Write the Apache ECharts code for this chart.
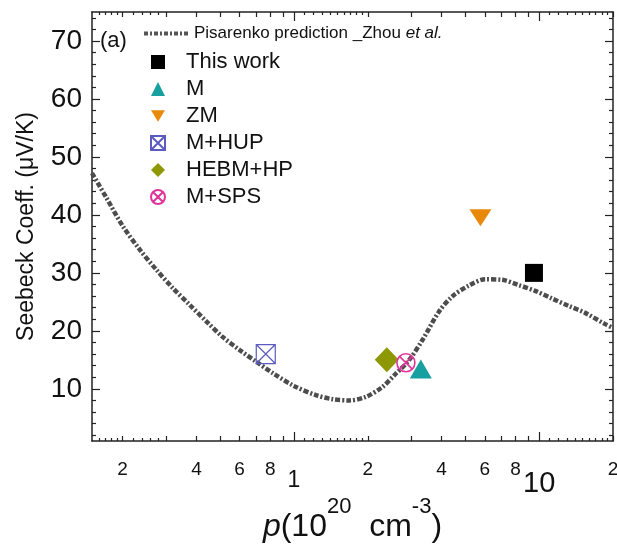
<!DOCTYPE html>
<html>
<head>
<meta charset="utf-8">
<script src="https://cdn.jsdelivr.net/npm/echarts@6/dist/echarts.min.js"></script>
<style>
  html, body { margin: 0; padding: 0; background: #fff; overflow: hidden; }
  #chart { width: 617px; height: 546px; }
</style>
</head>
<body>
<div id="chart"></div>
<script>
// Pisarenko curve: hole concentration p (1e20 cm^-3) vs Seebeck coefficient (uV/K)
const curveP = [0.15, 0.172, 0.2, 0.235, 0.275, 0.32, 0.375, 0.44, 0.51, 0.6, 0.7, 0.82, 1.0,
  1.23, 1.44, 1.68, 1.96, 2.29, 2.6, 2.94, 3.35, 3.9, 4.41, 5.16, 6.03, 7.05, 8.24, 9.63,
  11.25, 13.2, 15.4, 18.5, 20];
const curveS = [47.2, 42.9, 38.1, 34.0, 30.5, 27.4, 24.5, 21.6, 19.0, 16.7, 14.7, 12.7, 10.5,
  8.9, 8.2, 8.0, 8.6, 10.3, 12.6, 14.9, 18.5, 23.3, 25.9, 27.8, 28.9, 28.8, 27.9, 26.9,
  25.6, 24.3, 23.1, 21.2, 20.5];

// Measured samples [p, S]
const thisWork = [[9.52, 30.0]];
const mData = [[3.29, 13.4]];
const zmData = [[5.76, 39.5]];
const mHupData = [[0.767, 16.0]];
const hebmData = [[2.39, 15.0]];
const mSpsData = [[2.86, 14.5]];

// Axis ticks and labels
const xLabelValues = [0.2, 0.4, 0.6, 0.8, 2, 4, 6, 8, 20];
const xDecadeValues = [1, 10];
const xMidTicks = [0.2, 0.3, 0.4, 0.5, 0.6, 0.7, 0.8, 0.9, 2, 3, 4, 5, 6, 7, 8, 9, 20];
const xSmallTicks = [0.16, 0.17, 0.18, 0.19, 0.22, 0.24, 0.26, 0.28,
  1.1, 1.2, 1.3, 1.4, 1.5, 1.6, 1.7, 1.8, 1.9,
  11, 12, 13, 14, 15, 16, 17, 18, 19];
const yMajorTicks = [10, 20, 30, 40, 50, 60, 70];
const yMinorTicks = [2, 4, 6, 8, 12, 14, 16, 18, 22, 24, 26, 28, 32, 34, 36, 38, 42, 44, 46, 48,
  52, 54, 56, 58, 62, 64, 66, 68, 72, 74];

const FONT = '"Liberation Sans", Arial, Helvetica, sans-serif';
const AXIS_COLOR = '#222';

const curveData = curveP.map((p, i) => [p, curveS[i]]);

function xAxisBase(pos, tickValues, tickLen, showLine) {
  return {
    type: 'log', logBase: 10, min: 0.15, max: 20, position: pos,
    axisLine: { show: showLine, lineStyle: { color: AXIS_COLOR, width: 1.5 } },
    axisTick: { show: true, inside: true, length: tickLen, customValues: tickValues,
      lineStyle: { color: AXIS_COLOR, width: 1.2 } },
    axisLabel: { show: false },
    splitLine: { show: false },
    minorTick: { show: false }
  };
}
function yAxisBase(pos, tickValues, tickLen, showLine) {
  return {
    type: 'value', min: 1, max: 75, position: pos,
    axisLine: { show: showLine, lineStyle: { color: AXIS_COLOR, width: 1.5 } },
    axisTick: { show: true, inside: true, length: tickLen, customValues: tickValues,
      lineStyle: { color: AXIS_COLOR, width: 1.2 } },
    axisLabel: { show: false },
    splitLine: { show: false }
  };
}

const xMain = xAxisBase('bottom', xMidTicks, 5, true);
xMain.axisLabel = {
  show: true, customValues: xLabelValues, margin: 19,
  fontFamily: FONT, fontSize: 19, color: '#111',
  formatter: v => String(v < 1 ? Math.round(v * 10) : (v >= 20 ? 2 : v))
};
xMain.name = '{i|p}{n|(10}{s|20}{n|  cm}{s|-3}{n|)}';
xMain.nameLocation = 'middle';
xMain.nameGap = 55;
xMain.nameTextStyle = {
  rich: {
    i: { fontFamily: FONT, fontSize: 32, fontStyle: 'italic', color: '#111', lineHeight: 62 },
    n: { fontFamily: FONT, fontSize: 32, color: '#111', lineHeight: 62 },
    s: { fontFamily: FONT, fontSize: 22, color: '#111', lineHeight: 21, verticalAlign: 'top' }
  }
};

const xDecade = xAxisBase('bottom', xDecadeValues, 9, false);
xDecade.axisLabel = {
  show: true, customValues: xDecadeValues, margin: 28,
  formatter: v => (v === 1 ? '{a|1}' : '{b|10}'),
  rich: {
    a: { fontFamily: FONT, fontSize: 23, color: '#111' },
    b: { fontFamily: FONT, fontSize: 29, color: '#111' }
  }
};

const yMain = yAxisBase('left', yMajorTicks, 8, true);
yMain.axisLabel = {
  show: true, customValues: yMajorTicks, margin: 10,
  fontFamily: FONT, fontSize: 28, color: '#111'
};
yMain.name = 'Seebeck Coeff. (\u03bcV/K)';
yMain.nameLocation = 'middle';
yMain.nameGap = 54;
yMain.nameTextStyle = { fontFamily: FONT, fontSize: 23, color: '#111' };

const option = {
  animation: false,
  backgroundColor: '#fff',
  grid: { left: 92, right: 4, top: 12, bottom: 105, containLabel: false, outerBoundsMode: 'none' },
  title: {
    text: '(a)', left: 95, top: 25,
    textStyle: { fontFamily: FONT, fontSize: 22, fontWeight: 'normal', color: '#111' }
  },
  legend: [
    {
      data: ['Pisarenko prediction _Zhou et al.'],
      left: 142, top: 25, padding: 0, itemWidth: 45, itemHeight: 10,
      itemStyle: { color: 'rgba(0,0,0,0)', borderWidth: 0, opacity: 0 },
      lineStyle: { color: '#555', width: 4, type: [4, 2, 2, 2] },
      formatter: () => 'Pisarenko prediction _Zhou {it|et al.}',
      textStyle: { fontFamily: FONT, fontSize: 17, color: '#111',
        rich: { it: { fontFamily: FONT, fontSize: 17, fontStyle: 'italic', color: '#111' } } },
      selectedMode: false
    },
    {
      data: ['This work', 'M', 'ZM', 'M+HUP', 'HEBM+HP', 'M+SPS'],
      orient: 'vertical', left: 150, top: 51, padding: 0, itemWidth: 14, itemHeight: 14, itemGap: 5,
      textStyle: { fontFamily: FONT, fontSize: 22, color: '#111', lineHeight: 22,
        padding: [0, 0, 0, 16] },
      selectedMode: false
    }
  ],
  xAxis: [
    xMain,
    xDecade,
    xAxisBase('bottom', xSmallTicks, 3, false),
    xAxisBase('top', xMidTicks, 5, true),
    xAxisBase('top', xDecadeValues, 9, false),
    xAxisBase('top', xSmallTicks, 3, false)
  ],
  yAxis: [
    yMain,
    yAxisBase('left', yMinorTicks, 4, false),
    yAxisBase('right', yMajorTicks, 8, true),
    yAxisBase('right', yMinorTicks, 4, false)
  ],
  series: [
    {
      name: 'Pisarenko prediction _Zhou et al.', type: 'line', data: curveData,
      smooth: 0.3, symbol: 'none', clip: true,
      lineStyle: { color: '#4d4d4d', width: 4.5, type: [5, 2, 2, 2] },
      itemStyle: { color: '#4d4d4d' },
      z: 2
    },
    {
      name: 'This work', type: 'scatter', data: thisWork, symbol: 'rect', symbolSize: 18,
      itemStyle: { color: '#000', opacity: 1 }, z: 3
    },
    {
      name: 'M', type: 'scatter', data: mData, symbol: 'triangle', symbolSize: [22, 19],
      itemStyle: { color: '#17a0a0', opacity: 1 }, z: 3
    },
    {
      name: 'ZM', type: 'scatter', data: zmData,
      symbol: 'path://M0,0 L12,0 L6,10 Z',
      symbolSize: [22, 17], itemStyle: { color: '#e8890c', opacity: 1 }, z: 3
    },
    {
      name: 'M+HUP', type: 'scatter', data: mHupData,
      symbol: 'path://M0,0 L10,0 L10,10 L0,10 Z M0,0 L10,10 M10,0 L0,10',
      symbolSize: 19,
      itemStyle: { color: 'rgba(0,0,0,0)', borderColor: '#5b5bc0', borderWidth: 1.2, opacity: 1 },
      z: 3
    },
    {
      name: 'HEBM+HP', type: 'scatter', data: hebmData, symbol: 'diamond', symbolSize: [24, 25],
      itemStyle: { color: '#8e9805', opacity: 1 }, z: 3
    },
    {
      name: 'M+SPS', type: 'scatter', data: mSpsData,
      symbol: 'path://M0,5 A5,5 0 1,1 10,5 A5,5 0 1,1 0,5 Z M1.6,1.6 L8.4,8.4 M8.4,1.6 L1.6,8.4',
      symbolSize: 18,
      itemStyle: { color: 'rgba(0,0,0,0)', borderColor: '#e0359a', borderWidth: 1.6, opacity: 1 },
      z: 4
    }
  ]
};

const chart = echarts.init(document.getElementById('chart'), null, { renderer: 'canvas' });
chart.setOption(option);
</script>
</body>
</html>
